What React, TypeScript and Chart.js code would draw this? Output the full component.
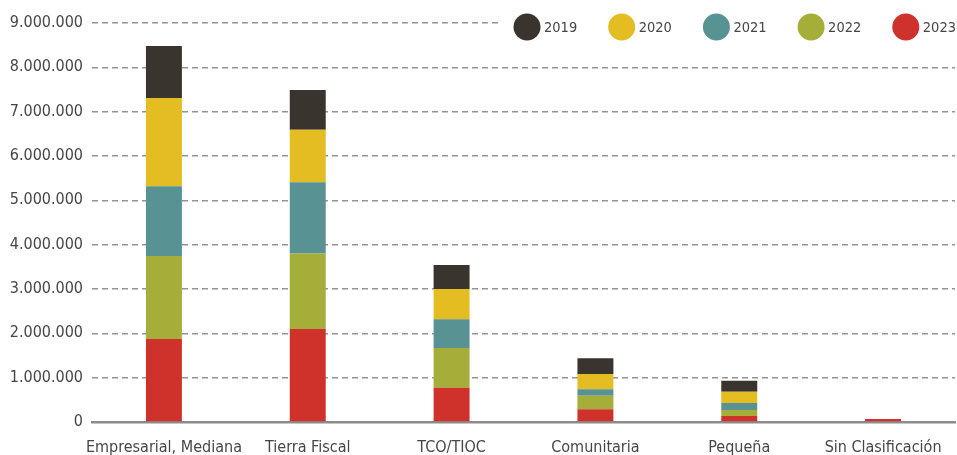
import React, { useEffect, useRef } from "react";
import { Chart, registerables } from "chart.js";

Chart.register(...registerables);

const categories = ["Empresarial, Mediana", "Tierra Fiscal", "TCO/TIOC", "Comunitaria", "Pequeña", "Sin Clasificación"];
const years = ["2019", "2020", "2021", "2022", "2023"];
const v2019 = [1170000, 900000, 540000, 360000, 250000, 0];
const v2020 = [1990000, 1180000, 680000, 340000, 250000, 0];
const v2021 = [1575000, 1610000, 650000, 150000, 160000, 0];
const v2022 = [1875000, 1700000, 900000, 300000, 135000, 0];
const v2023 = [1870000, 2100000, 770000, 290000, 135000, 70000];
const colors = ["#39342d", "#e3bd22", "#589292", "#a4ae38", "#cf312b"];

const FONT = "'Liberation Sans Narrow', 'DejaVu Sans Condensed', sans-serif";
const TEXT = "#464646";

export default function App() {
  const ref = useRef<HTMLCanvasElement | null>(null);
  useEffect(() => {
    document.body.style.margin = "0";
    const values = [v2019, v2020, v2021, v2022, v2023];
    const datasets = [4, 3, 2, 1, 0].map((i) => ({
      label: years[i],
      data: values[i],
      backgroundColor: colors[i],
      borderWidth: 0,
      barPercentage: 1,
      categoryPercentage: 0.25,
    }));
    const legendPlugin = {
      id: "customLegend",
      afterDraw(chart: any) {
        const ctx = chart.ctx;
        ctx.save();
        ctx.fillStyle = "#ffffff";
        ctx.fillRect(502, 8, 455, 38);
        years.forEach((y, i) => {
          const cx = 527 + i * 94.7;
          ctx.beginPath();
          ctx.arc(cx, 27, 13.5, 0, Math.PI * 2);
          ctx.fillStyle = colors[i];
          ctx.fill();
          ctx.fillStyle = TEXT;
          ctx.font = `14.5px ${FONT}`;
          ctx.textBaseline = "middle";
          ctx.textAlign = "left";
          ctx.fillText(y, cx + 17, 28);
        });
        ctx.restore();
      },
    };
    const chart = new Chart(ref.current!, {
      type: "bar",
      data: { labels: categories, datasets },
      plugins: [legendPlugin],
      options: {
        animation: false,
        responsive: false,
        layout: { padding: { top: 23, right: 2, left: 0, bottom: 0 } },
        plugins: { legend: { display: false }, tooltip: { enabled: false } },
        scales: {
          x: {
            stacked: true,
            grid: { display: false },
            border: { display: true, color: "#8c8c8c", width: 2.5 },
            ticks: {
              color: TEXT,
              font: { family: FONT, size: 16 },
              padding: 8,
              maxRotation: 0,
              minRotation: 0,
              autoSkip: false,
            },
            afterFit(scale: any) { scale.height = 33; },
          },
          y: {
            stacked: true,
            min: 0,
            max: 9000000,
            border: { display: false, dash: [6, 4] },
            grid: {
              color: (c: any) => (c.tick && c.tick.value === 0 ? "rgba(0,0,0,0)" : "#949494"),
              lineWidth: 1.5,
              drawTicks: false,
            },
            ticks: {
              stepSize: 1000000,
              color: TEXT,
              padding: 9,
              font: { family: FONT, size: 16 },
              callback: (v: any) => Number(v).toLocaleString("de-DE"),
            },
            afterFit(scale: any) { scale.width = 92; },
          },
        },
      } as any,
    });
    return () => chart.destroy();
  }, []);
  return (
    <div style={{ width: 957, height: 455 }}>
      <canvas ref={ref} width={957} height={455} style={{ display: "block" }} />
    </div>
  );
}
